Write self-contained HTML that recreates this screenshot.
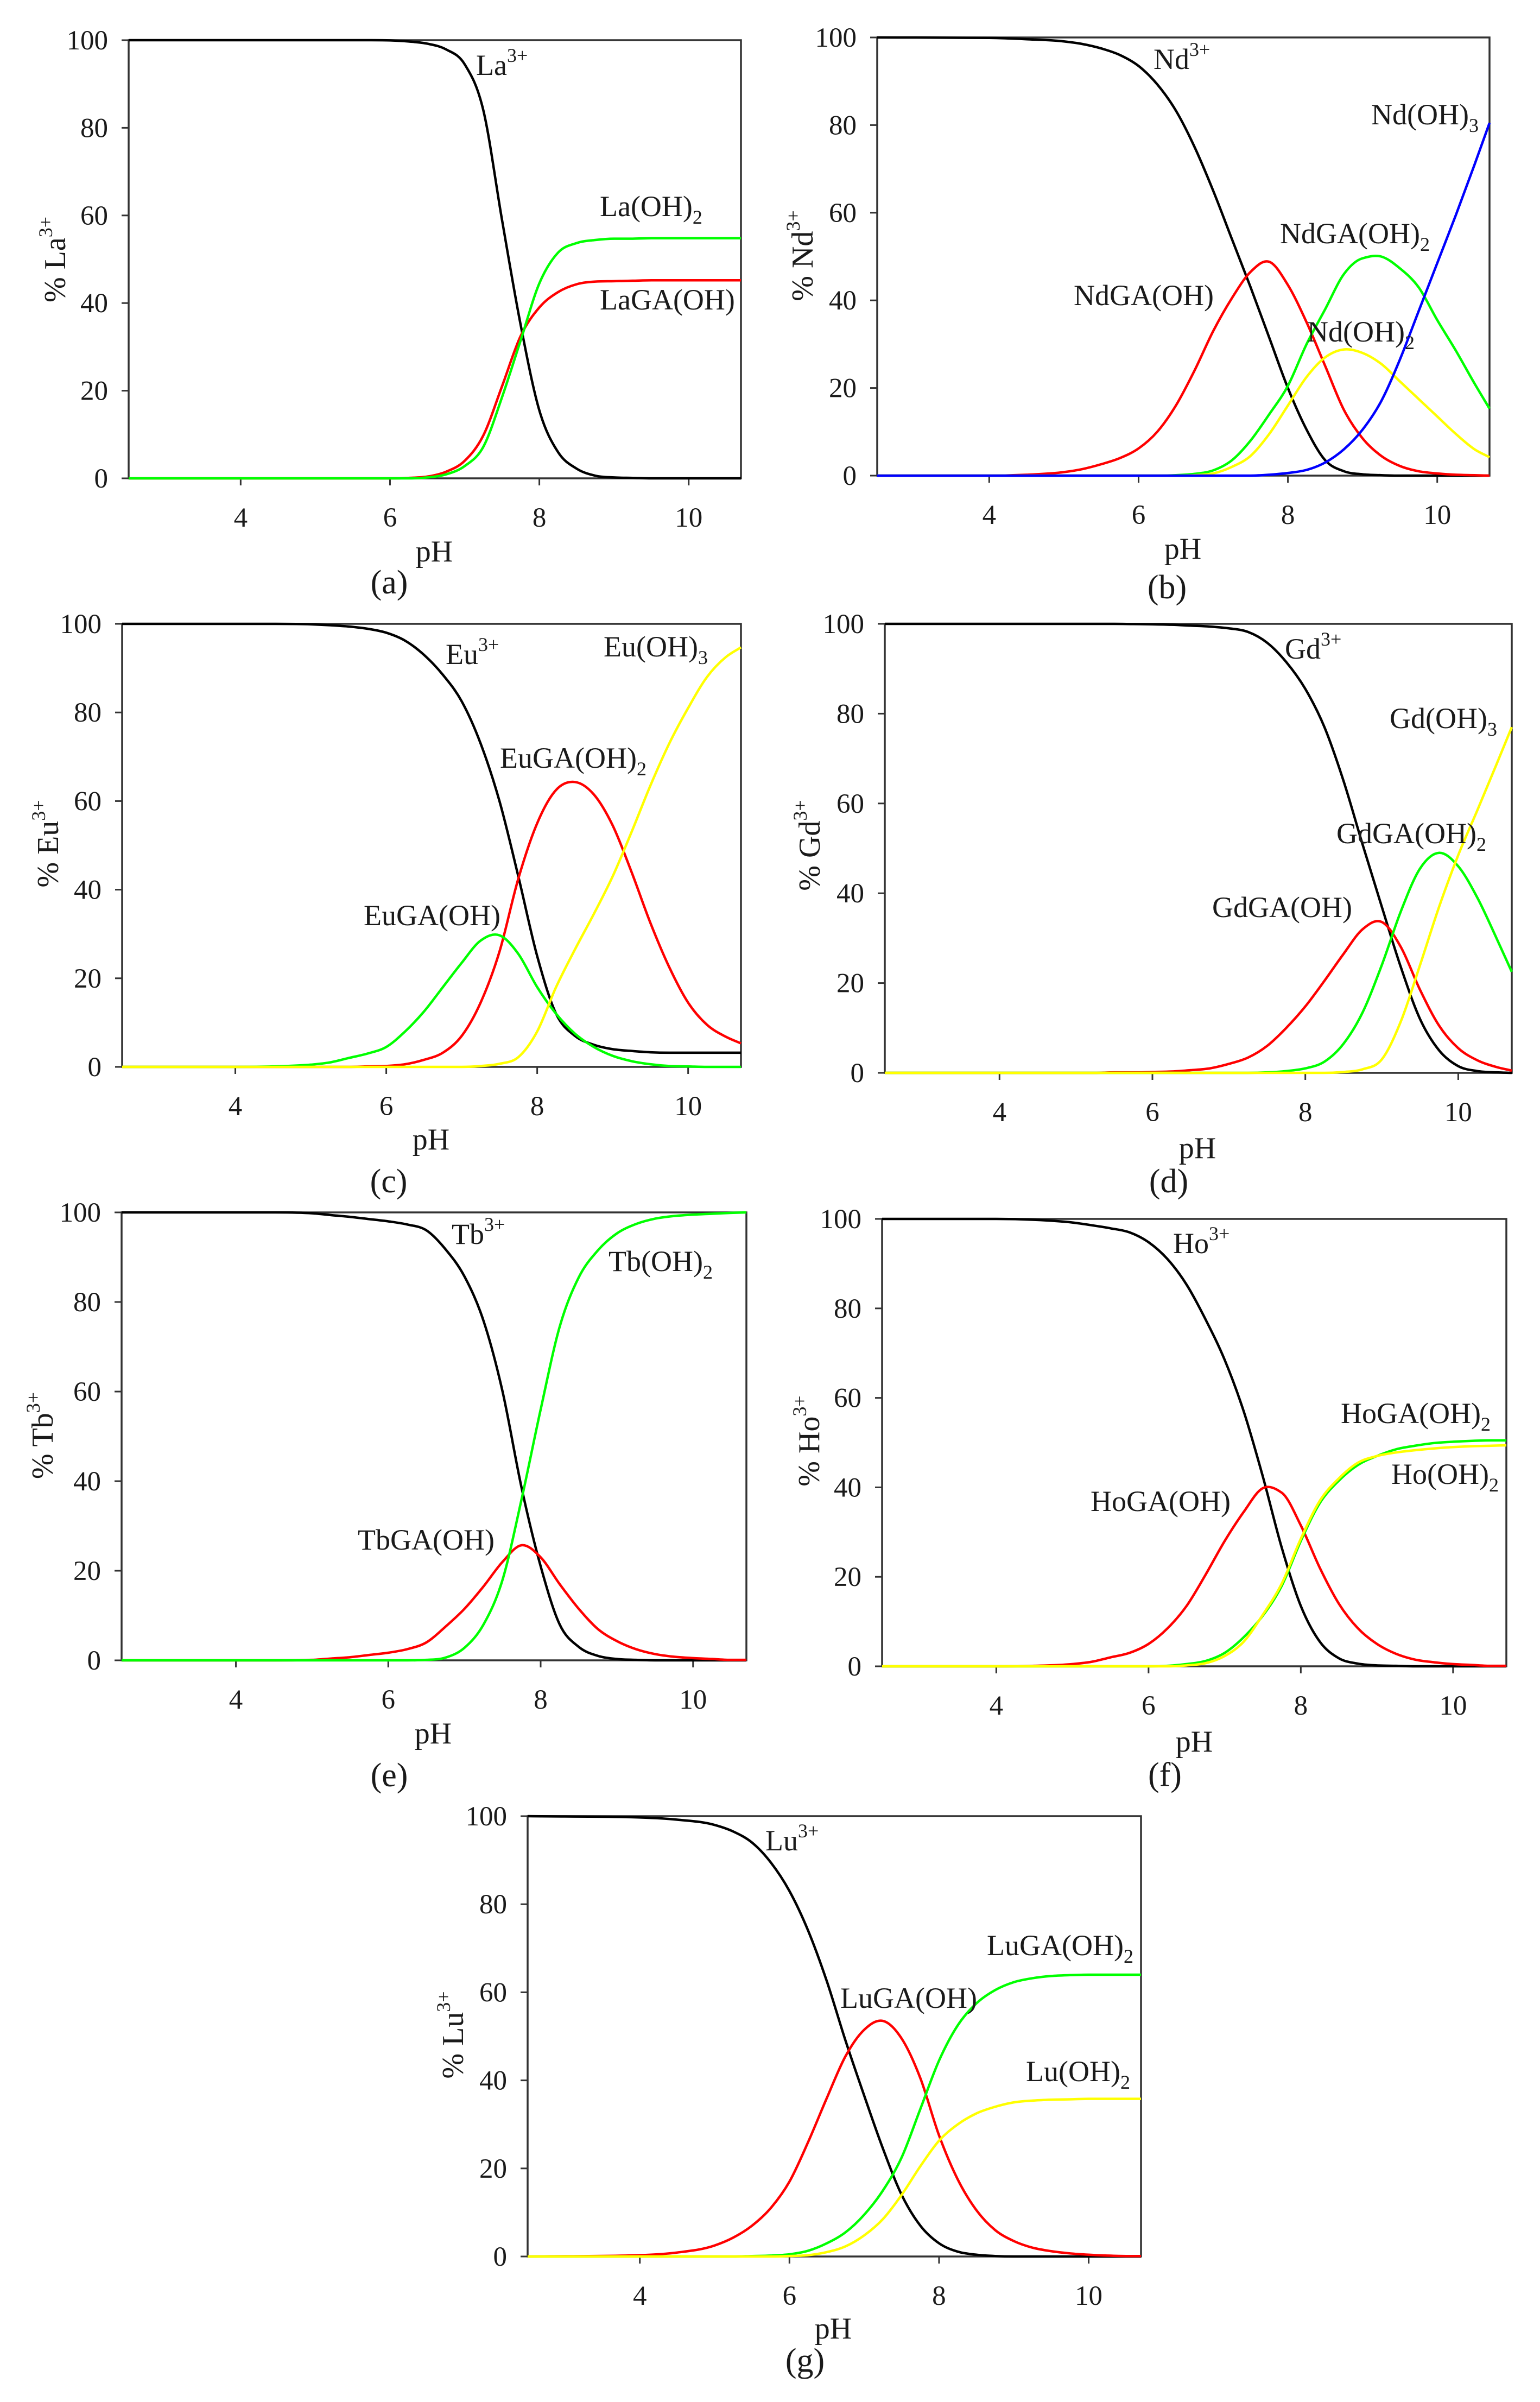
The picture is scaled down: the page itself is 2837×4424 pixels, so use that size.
<!DOCTYPE html>
<html lang="en">
<head>
<meta charset="utf-8">
<title>Lanthanide speciation versus pH</title>
<style>
html,body{margin:0;padding:0;background:#fff}
svg{display:block}
text{font-family:"Liberation Serif",serif;fill:#1a1a1a}
.lab{font-size:54px}
.tick{font-size:51px}
.ttl{font-size:56px}
.cap{font-size:62px}
.s{font-size:36px}
</style>
</head>
<body>
<svg id="fig" xmlns="http://www.w3.org/2000/svg" width="2837" height="4424" viewBox="0 0 2837 4424">
<rect x="0" y="0" width="2837" height="4424" fill="#fff"/>

<g id="panel-a"></g>
<g id="panel-b"></g>
<g id="panel-c"></g>
<g id="panel-d"></g>
<g id="panel-e"></g>
<g id="panel-f"></g>
<g id="panel-g"></g>

<!-- panel a text -->
<g>
<text class="lab" x="877" y="138">La<tspan class="s" dy="-24">3+</tspan></text>
<text class="lab" x="1105" y="398">La(OH)<tspan class="s" dy="14">2</tspan></text>
<text class="lab" x="1105" y="570">LaGA(OH)</text>
<text class="ttl" text-anchor="middle" x="800" y="1034">pH</text>
<text class="cap" text-anchor="middle" x="717" y="1093">(a)</text>
<text class="ttl" text-anchor="middle" transform="translate(120 478) rotate(-90)">% La<tspan class="s" dy="-24">3+</tspan></text>
</g>
<!-- panel b text -->
<g>
<text class="lab" x="2125" y="127">Nd<tspan class="s" dy="-24">3+</tspan></text>
<text class="lab" x="2526" y="229">Nd(OH)<tspan class="s" dy="14">3</tspan></text>
<text class="lab" x="2358" y="448">NdGA(OH)<tspan class="s" dy="14">2</tspan></text>
<text class="lab" x="1978" y="562">NdGA(OH)</text>
<text class="lab" x="2408" y="629">Nd(OH)<tspan class="s" dy="14">2</tspan></text>
<text class="ttl" text-anchor="middle" x="2179" y="1029">pH</text>
<text class="cap" text-anchor="middle" x="2150" y="1102">(b)</text>
<text class="ttl" text-anchor="middle" transform="translate(1497 471) rotate(-90)">% Nd<tspan class="s" dy="-24">3+</tspan></text>
</g>
<!-- panel c text -->
<g>
<text class="lab" x="821" y="1223">Eu<tspan class="s" dy="-24">3+</tspan></text>
<text class="lab" x="1112" y="1209">Eu(OH)<tspan class="s" dy="14">3</tspan></text>
<text class="lab" x="921" y="1414">EuGA(OH)<tspan class="s" dy="14">2</tspan></text>
<text class="lab" x="670" y="1704">EuGA(OH)</text>
<text class="ttl" text-anchor="middle" x="794" y="2117">pH</text>
<text class="cap" text-anchor="middle" x="716" y="2196">(c)</text>
<text class="ttl" text-anchor="middle" transform="translate(107 1554) rotate(-90)">% Eu<tspan class="s" dy="-24">3+</tspan></text>
</g>
<!-- panel d text -->
<g>
<text class="lab" x="2367" y="1213">Gd<tspan class="s" dy="-24">3+</tspan></text>
<text class="lab" x="2560" y="1341">Gd(OH)<tspan class="s" dy="14">3</tspan></text>
<text class="lab" x="2462" y="1553">GdGA(OH)<tspan class="s" dy="14">2</tspan></text>
<text class="lab" x="2233" y="1689">GdGA(OH)</text>
<text class="ttl" text-anchor="middle" x="2206" y="2133">pH</text>
<text class="cap" text-anchor="middle" x="2153" y="2196">(d)</text>
<text class="ttl" text-anchor="middle" transform="translate(1510 1557) rotate(-90)">% Gd<tspan class="s" dy="-24">3+</tspan></text>
</g>
<!-- panel e text -->
<g>
<text class="lab" x="832" y="2291">Tb<tspan class="s" dy="-24">3+</tspan></text>
<text class="lab" x="1121" y="2341">Tb(OH)<tspan class="s" dy="14">2</tspan></text>
<text class="lab" x="659" y="2854">TbGA(OH)</text>
<text class="ttl" text-anchor="middle" x="798" y="3211">pH</text>
<text class="cap" text-anchor="middle" x="717" y="3290">(e)</text>
<text class="ttl" text-anchor="middle" transform="translate(97 2644) rotate(-90)">% Tb<tspan class="s" dy="-24">3+</tspan></text>
</g>
<!-- panel f text -->
<g>
<text class="lab" x="2161" y="2308">Ho<tspan class="s" dy="-24">3+</tspan></text>
<text class="lab" x="2470" y="2621">HoGA(OH)<tspan class="s" dy="14">2</tspan></text>
<text class="lab" x="2563" y="2733">Ho(OH)<tspan class="s" dy="14">2</tspan></text>
<text class="lab" x="2009" y="2783">HoGA(OH)</text>
<text class="ttl" text-anchor="middle" x="2200" y="3226">pH</text>
<text class="cap" text-anchor="middle" x="2146" y="3289">(f)</text>
<text class="ttl" text-anchor="middle" transform="translate(1509 2654) rotate(-90)">% Ho<tspan class="s" dy="-24">3+</tspan></text>
</g>
<!-- panel g text -->
<g>
<text class="lab" x="1410" y="3408">Lu<tspan class="s" dy="-24">3+</tspan></text>
<text class="lab" x="1818" y="3601">LuGA(OH)<tspan class="s" dy="14">2</tspan></text>
<text class="lab" x="1548" y="3698">LuGA(OH)</text>
<text class="lab" x="1890" y="3833">Lu(OH)<tspan class="s" dy="14">2</tspan></text>
<text class="ttl" text-anchor="middle" x="1535" y="4307">pH</text>
<text class="cap" text-anchor="middle" x="1483" y="4368">(g)</text>
<text class="ttl" text-anchor="middle" transform="translate(853 3748) rotate(-90)">% Lu<tspan class="s" dy="-24">3+</tspan></text>
</g>
</svg>

<script>
// Shared pH sample points; every series below has one value per entry.
const phValues = [2.5,4,4.5,5,5.25,5.5,5.75,6,6.25,6.5,6.75,7,7.25,7.5,7.75,8,8.25,8.5,8.75,9,9.25,9.5,9.75,10,10.25,10.5,10.7];
const xTickLabels = [4,6,8,10];
const yTickLabels = [0,20,40,60,80,100];

const laFree  = [100,100,100,100,100,100,100,99.95,99.7,99.2,97.9,94.5,84,59,35,15.5,6,2.2,.6,.2,.1,0,0,0,0,0,0];
const laGaOh  = [0,0,0,0,0,0,0,0,.1,.4,1.5,4,9.8,21,32.5,39,42.5,44.3,44.9,45,45.1,45.2,45.2,45.2,45.2,45.2,45.2];
const laOh2   = [0,0,0,0,0,0,0,0,0,.2,.9,2.8,7.2,18.5,31.5,44.5,51.5,53.7,54.4,54.7,54.7,54.8,54.8,54.8,54.8,54.8,54.8];

const ndFree  = [100,99.9,99.6,99.1,98.5,97.5,96,93.5,89.3,83.3,75,65,54,43,31.5,20,10.5,3.5,1,.3,.1,0,0,0,0,0,0];
const ndGaOh  = [0,0,.2,.8,1.5,2.6,4,6.2,10,16,24,33,40.5,46.5,48.8,43.5,35,25,15,8.5,4.5,2.2,1,.5,.2,.1,0];
const ndGaOh2 = [0,0,0,0,0,0,0,0,0,.1,.4,1.2,3.5,8,14,20.5,30,38,46,49.6,50,47.3,43,35.5,28.5,21,15.3];
const ndOh2   = [0,0,0,0,0,0,0,0,0,0,.1,.5,2,4.5,9.5,16,22.5,27,28.8,28,25.5,21.5,17.5,13.5,9.5,6,4.2];
const ndOh3   = [0,0,0,0,0,0,0,0,0,0,0,0,0,0,.2,.6,1.3,3,6,10.5,17,26.5,37.5,48.5,59.5,71,80.5];

const euFree  = [100,100,100,99.9,99.7,99.4,98.9,98,96.2,93,88.5,82.5,73,60,43,25,12,7,5,4,3.6,3.3,3.2,3.2,3.2,3.2,3.2];
const euGaOh2 = [0,0,0,0,0,0,.1,.2,.6,1.6,3.2,7,14.5,26,42.5,55,62.5,64.3,61.5,54.5,44,32.5,22.5,14.5,9.5,6.8,5.3];
const euGaOh  = [0,0,.1,.5,1,2,3,4.5,8,12.5,18,23.5,28.5,29.7,25.5,18,12,7.5,4.5,2.5,1.3,.6,.2,.1,0,0,0];
const euOh3   = [0,0,0,0,0,0,0,0,0,0,0,0,.2,.7,2.2,8,18,26.5,34.5,43,53,63.5,73,81,88,92.5,94.7];

const gdFree  = [100,100,100,100,100,100,99.95,99.9,99.8,99.6,99.4,99,98.2,95.8,91.5,85.5,77,65,50.8,37,23.5,12,5,1.5,.4,.1,0];
const gdGaOh  = [0,0,0,0,0,.1,.1,.2,.3,.6,1,2,3.4,6,10,14.8,20.5,26.5,32,33.6,28,18.5,10.5,5.5,2.8,1.3,.5];
const gdGaOh2 = [0,0,0,0,0,0,0,0,0,0,0,0,0,.1,.4,1,2.5,6.5,13.5,24,36,45.5,49,46,39,30,22.5];
const gdOh3   = [0,0,0,0,0,0,0,0,0,0,0,0,0,0,0,0,0,.2,.8,3,11.5,24,37,48.5,58.5,68.7,77];

const tbFree  = [100,100,100,99.8,99.4,99,98.5,98,97.3,96,91.8,85.7,75.8,60,38.5,21,8,3,1,.3,.1,0,0,0,0,0,0];
const tbGaOh  = [0,0,0,.1,.4,.7,1.2,1.7,2.5,4,7.5,11.5,16.5,22,25.7,23,17,11.5,7,4.3,2.5,1.4,.8,.5,.3,.1,.1];
const tbOh2   = [0,0,0,0,0,0,0,0,0,.1,.6,2.8,8,18,36,56,74.5,85.5,91.5,95.3,97.4,98.6,99.2,99.5,99.7,99.9,100];

const hoFree  = [100,100,99.8,99.2,98.6,97.9,97,94.8,91,85.3,77.5,68.5,57,42.5,26.5,13.5,5.5,1.8,.6,.2,.1,0,0,0,0,0,0];
const hoGaOh  = [0,0,.1,.5,1,2,3,5,8.5,13.5,20.5,28,34.5,39.8,38.8,31.5,22,14,8.5,5,2.8,1.5,.9,.5,.3,.1,.1];
const hoGaOh2 = [0,0,0,0,0,0,0,0,.1,.5,1.2,3,6.5,11.3,18,28,36.5,41.5,45,47,48.5,49.3,49.9,50.2,50.4,50.5,50.5];
const hoOh2   = [0,0,0,0,0,0,0,0,0,.2,.7,2.3,5.5,11.5,18.5,28.5,37,42,45.5,47,47.8,48.3,48.7,49,49.2,49.3,49.4];

const luFree  = [100,99.7,99.2,98,96.5,94,89.5,83,74,62.5,49,36.5,24.5,14,7,3,1.1,.4,.1,0,0,0,0,0,0,0,0];
const luGaOh  = [0,.3,.9,2.5,4.3,7,11,17,26,36,45.5,51.5,53.5,49.5,40.5,27.5,17.5,10.5,6,3.5,2,1.2,.7,.4,.2,.1,.1];
const luGaOh2 = [0,0,0,0,0,.1,.2,.5,1.3,3,5.5,9.5,15,22.5,33.5,44.5,52.5,57.5,60.5,62.3,63.2,63.7,63.9,64,64,64,64];
const luOh2   = [0,0,0,0,0,0,0,.1,.3,1,2.3,4.8,8.5,14,20.5,26.3,30,32.5,34,35,35.4,35.6,35.7,35.8,35.8,35.8,35.8];

const SVG_NS = 'http://www.w3.org/2000/svg';
const BLACK = '#000', RED = '#ff0000', GREEN = '#00ff00', YELLOW = '#ffff00', BLUE = '#0000ff';
const X_MIN = 2.5, X_MAX = 10.7, Y_MIN = 0, Y_MAX = 100;

const panels = [
  {id:'panel-a', l:237,  r:1365, t:74,   b:881,  series:[['la-free',laFree,BLACK],['laga-oh',laGaOh,RED],['la-oh2',laOh2,GREEN]]},
  {id:'panel-b', l:1616, r:2744, t:69,   b:876,  series:[['nd-free',ndFree,BLACK],['ndga-oh',ndGaOh,RED],['ndga-oh2',ndGaOh2,GREEN],['nd-oh2',ndOh2,YELLOW],['nd-oh3',ndOh3,BLUE]]},
  {id:'panel-c', l:225,  r:1365, t:1149, b:1965, series:[['eu-free',euFree,BLACK],['euga-oh2',euGaOh2,RED],['euga-oh',euGaOh,GREEN],['eu-oh3',euOh3,YELLOW]]},
  {id:'panel-d', l:1630, r:2785, t:1149, b:1976, series:[['gd-free',gdFree,BLACK],['gdga-oh',gdGaOh,RED],['gdga-oh2',gdGaOh2,GREEN],['gd-oh3',gdOh3,YELLOW]]},
  {id:'panel-e', l:224,  r:1375, t:2233, b:3058, series:[['tb-free',tbFree,BLACK],['tbga-oh',tbGaOh,RED],['tb-oh2',tbOh2,GREEN]]},
  {id:'panel-f', l:1625, r:2775, t:2245, b:3069, series:[['ho-free',hoFree,BLACK],['hoga-oh',hoGaOh,RED],['hoga-oh2',hoGaOh2,GREEN],['ho-oh2',hoOh2,YELLOW]]},
  {id:'panel-g', l:972,  r:2102, t:3345, b:4156, series:[['lu-free',luFree,BLACK],['luga-oh',luGaOh,RED],['luga-oh2',luGaOh2,GREEN],['lu-oh2',luOh2,YELLOW]]}
];

function make(tag, attrs, parent) {
  const el = document.createElementNS(SVG_NS, tag);
  for (const k in attrs) el.setAttribute(k, attrs[k]);
  parent.appendChild(el);
  return el;
}

// Cubic path through the points: weighted central tangents keep curves and peaks smooth,
// and a limiter stops flat tails from overshooting.
function smoothPath(pts) {
  const n = pts.length, dx = [], sl = [], m = [];
  for (let i = 0; i < n - 1; i++) {
    dx[i] = pts[i+1][0] - pts[i][0];
    sl[i] = (pts[i+1][1] - pts[i][1]) / dx[i];
  }
  m[0] = sl[0];
  m[n-1] = sl[n-2];
  for (let i = 1; i < n - 1; i++) {
    const a = sl[i-1], b = sl[i];
    const central = (dx[i]*a + dx[i-1]*b) / (dx[i] + dx[i-1]);
    if (a === 0 || b === 0) { m[i] = 0; }
    else if (a * b < 0) { m[i] = central; }
    else {
      const limit = 3 * Math.min(Math.abs(a), Math.abs(b));
      m[i] = Math.sign(central) * Math.min(Math.abs(central), limit);
    }
  }
  let d = 'M' + pts[0][0].toFixed(2) + ' ' + pts[0][1].toFixed(2);
  for (let i = 0; i < n - 1; i++) {
    const h = dx[i] / 3;
    d += ' C' + (pts[i][0]+h).toFixed(2) + ' ' + (pts[i][1]+m[i]*h).toFixed(2) + ' ' +
         (pts[i+1][0]-h).toFixed(2) + ' ' + (pts[i+1][1]-m[i+1]*h).toFixed(2) + ' ' +
         pts[i+1][0].toFixed(2) + ' ' + pts[i+1][1].toFixed(2);
  }
  return d;
}

panels.forEach(function (p) {
  const g = document.getElementById(p.id);
  const sx = function (v) { return p.l + (v - X_MIN) / (X_MAX - X_MIN) * (p.r - p.l); };
  const sy = function (v) { return p.b - (v - Y_MIN) / (Y_MAX - Y_MIN) * (p.b - p.t); };

  yTickLabels.forEach(function (v) {
    const tick = make('line', {x1:p.l-13, x2:p.l, y1:sy(v), y2:sy(v), stroke:'#333', 'stroke-width':3}, g);
    
    
    const lab = make('text', {x:p.l-38, y:sy(v)+17, 'text-anchor':'end', 'class':'tick'}, g);
    
    
    lab.textContent = v;
  });

  xTickLabels.forEach(function (v) {
    const tick = make('line', {x1:sx(v), x2:sx(v), y1:p.b, y2:p.b+13, stroke:'#333', 'stroke-width':3}, g);
    
    
    const lab = make('text', {x:sx(v), y:p.b+89, 'text-anchor':'middle', 'class':'tick'}, g);
    
    
    lab.textContent = v;
  });

  const frame = make('rect', {x:p.l, y:p.t, width:p.r-p.l, height:p.b-p.t, fill:'none', stroke:'#333', 'stroke-width':3.5}, g);
  
  

  p.series.forEach(function (s) {
    const pts = s[1].map(function (v, i) { return [sx(phValues[i]), sy(v)]; });
    const line = make('path', {d:smoothPath(pts), fill:'none', stroke:s[2], 'stroke-width':4.5, 'stroke-linejoin':'round'}, g);
    
    
  });
});
</script>
</body>
</html>
